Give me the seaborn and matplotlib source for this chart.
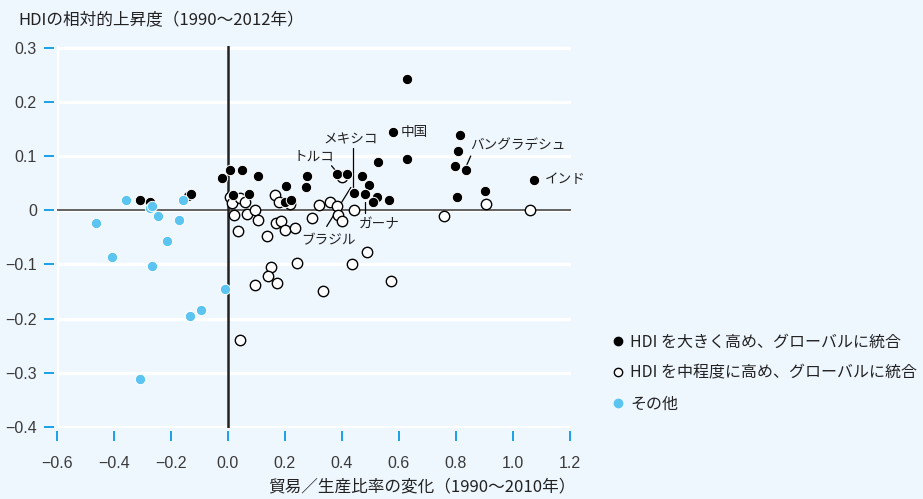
import pandas as pd
import matplotlib
matplotlib.use('Agg')
import matplotlib.pyplot as plt
import seaborn as sns
from matplotlib.lines import Line2D

sns.set_theme(style='white')
plt.rcParams['font.family'] = ['Noto Sans CJK JP', 'DejaVu Sans']
plt.rcParams['axes.unicode_minus'] = True

BG = '#eff7fe'
TXT = '#222222'
TICK = '#1aa0e6'
CYAN = '#5bc4f1'
NUM_FONT = ['Liberation Sans Narrow', 'Liberation Sans', 'DejaVu Sans']

# --- data ---
high_x = [-0.307, -0.274, -0.139, -0.128, -0.019, 0.009, 0.049, 0.107, 0.019, 0.074,
          0.204, 0.200, 0.220, 0.277, 0.274, 0.384, 0.417, 0.528, 0.471, 0.494,
          0.443, 0.480, 0.525, 0.509, 0.567, 0.630, 0.579, 0.629,
          0.815, 0.807, 0.799, 0.837, 0.804, 0.902, 1.076]
high_y = [0.019, 0.016, 0.026, 0.029, 0.059, 0.074, 0.075, 0.064, 0.028, 0.029,
          0.045, 0.016, 0.018, 0.063, 0.042, 0.067, 0.066, 0.088, 0.064, 0.046,
          0.032, 0.029, 0.024, 0.015, 0.019, 0.242, 0.145, 0.094,
          0.138, 0.110, 0.081, 0.074, 0.025, 0.036, 0.056]

mid_x = [0.007, 0.013, 0.042, 0.060, 0.022, 0.066, 0.096, 0.107, 0.034, 0.136,
         0.165, 0.180, 0.218, 0.169, 0.187, 0.199, 0.237, 0.294, 0.321, 0.358,
         0.382, 0.388, 0.400, 0.443, 0.400, 0.490, 0.437, 0.244, 0.150, 0.142,
         0.171, 0.097, 0.333, 0.573, 0.041, 0.759, 0.908, 1.060]
mid_y = [0.025, 0.013, 0.022, 0.016, -0.009, -0.007, 0.000, -0.019, -0.038, -0.047,
         0.028, 0.015, 0.012, -0.024, -0.020, -0.036, -0.033, -0.015, 0.010, 0.015,
         0.007, -0.009, -0.020, 0.001, 0.062, -0.078, -0.099, -0.098, -0.105, -0.122,
         -0.134, -0.138, -0.150, -0.131, -0.239, -0.010, 0.011, 0.000]

other_x = [-0.463, -0.408, -0.359, -0.274, -0.265, -0.244, -0.265, -0.215, -0.173,
           -0.159, -0.309, -0.134, -0.096, -0.011]
other_y = [-0.024, -0.087, 0.019, 0.004, 0.007, -0.010, -0.103, -0.057, -0.019,
           0.019, -0.311, -0.196, -0.184, -0.145]

groups = ['HDI を大きく高め、グローバルに統合', 'HDI を中程度に高め、グローバルに統合', 'その他']

x_ticks = [-0.6, -0.4, -0.2, 0.0, 0.2, 0.4, 0.6, 0.8, 1.0, 1.2]
y_ticks = [-0.4, -0.3, -0.2, -0.1, 0.0, 0.1, 0.2, 0.3]
y_labels = ['\u22120.4', '\u22120.3', '\u22120.2', '\u22120.1', '0', '0.1', '0.2', '0.3']
x_labels = ['\u22120.6', '\u22120.4', '\u22120.2', '0.0', '0.2', '0.4', '0.6', '0.8', '1.0', '1.2']

df = pd.concat([
    pd.DataFrame({'x': high_x, 'y': high_y, 'group': groups[0]}),
    pd.DataFrame({'x': mid_x, 'y': mid_y, 'group': groups[1]}),
    pd.DataFrame({'x': other_x, 'y': other_y, 'group': groups[2]}),
])

fig = plt.figure(figsize=(9.23, 4.99), dpi=100, facecolor=BG)
ax = fig.add_axes([0.0618, 0.1423, 0.5568, 0.7655])
ax.set_facecolor(BG)

# grid and zero lines
ax.yaxis.grid(True, color='white', lw=2.3, zorder=0)
ax.xaxis.grid(False)
ax.set_axisbelow(True)
ax.axvline(-0.6, color='white', lw=2.3, zorder=0.5)
ax.axhline(0, color='#555555', lw=1.3, zorder=1)
ax.axvline(0, color='#222222', lw=1.8, zorder=1)

styles = {
    groups[0]: dict(color='black', edgecolor='white', linewidth=0.7),
    groups[1]: dict(color='white', edgecolor='black', linewidth=1.0),
    groups[2]: dict(color=CYAN, edgecolor='white', linewidth=0.7),
}
for g in [groups[1], groups[0], groups[2]]:
    sns.scatterplot(data=df[df['group'] == g], x='x', y='y', s=56, ax=ax,
                    zorder=3, legend=False, **styles[g])

ax.set_xlim(-0.6, 1.205)
ax.set_ylim(-0.402, 0.303)
ax.set_xticks(x_ticks)
ax.set_xticklabels(x_labels)
ax.set_yticks(y_ticks)
ax.set_yticklabels(y_labels)
ax.set_xlabel('')
ax.set_ylabel('')
for side in ['top', 'right', 'left', 'bottom']:
    ax.spines[side].set_visible(False)
ax.spines['left'].set_position(('outward', 2))
ax.spines['bottom'].set_position(('outward', 2.5))
ax.tick_params(axis='both', which='major', direction='out', length=7,
               width=1.4, color=TICK, labelcolor='#3a3a3a', labelsize=11.5,
               left=True, bottom=True)
ax.tick_params(axis='y', pad=5.5)
ax.tick_params(axis='x', pad=11)
for lab in ax.get_xticklabels() + ax.get_yticklabels():
    lab.set_fontfamily(NUM_FONT)
ax.yaxis.get_major_ticks()[4].tick1line.set_color('#8dd2f6')

# annotations
fs = 9.8
ax.text(0.608, 0.145, '中国', fontsize=fs, color=TXT, va='center', ha='left')
ax.text(0.851, 0.119, 'バングラデシュ', fontsize=fs, color=TXT, va='center', ha='left')
ax.plot([0.837, 0.853], [0.081, 0.100], color='black', lw=0.9)
ax.text(1.114, 0.057, 'インド', fontsize=fs, color=TXT, va='center', ha='left')
ax.text(0.431, 0.131, 'メキシコ', fontsize=fs, color=TXT, va='center', ha='center')
ax.plot([0.440, 0.440], [0.115, 0.040], color='black', lw=0.9)
ax.text(0.302, 0.098, 'トルコ', fontsize=fs, color=TXT, va='center', ha='center')
ax.plot([0.364, 0.380], [0.082, 0.072], color='black', lw=0.9)
ax.text(0.354, -0.055, 'ブラジル', fontsize=fs, color=TXT, va='center', ha='center')
ax.plot([0.347, 0.432], [-0.030, 0.042], color='black', lw=0.9)
ax.text(0.533, -0.025, 'ガーナ', fontsize=fs, color=TXT, va='center', ha='center')
ax.plot([0.482, 0.482], [0.016, -0.006], color='black', lw=0.9)

# titles
fig.text(0.0195, 0.958, 'HDIの相対的上昇度（1990〜2012年）', fontsize=12,
         color=TXT, va='center', ha='left')
fig.text(0.624, 0.024, '貿易／生産比率の変化（1990〜2010年）', fontsize=12,
         color=TXT, va='center', ha='right')

# legend
handles = [
    Line2D([], [], ls='', marker='o', ms=6, mfc='black', mec='black'),
    Line2D([], [], ls='', marker='o', ms=6, mfc='white', mec='black', mew=1.0),
    Line2D([], [], ls='', marker='o', ms=6, mfc=CYAN, mec=CYAN),
]
leg = fig.legend(handles, groups, loc='upper left', bbox_to_anchor=(0.656, 0.347),
                 frameon=False, fontsize=11.5, handlelength=0.6, handletextpad=0.45,
                 labelspacing=0.88, borderpad=0)
for t in leg.get_texts():
    t.set_color(TXT)

fig.savefig('out.png', dpi=100, facecolor=BG)
